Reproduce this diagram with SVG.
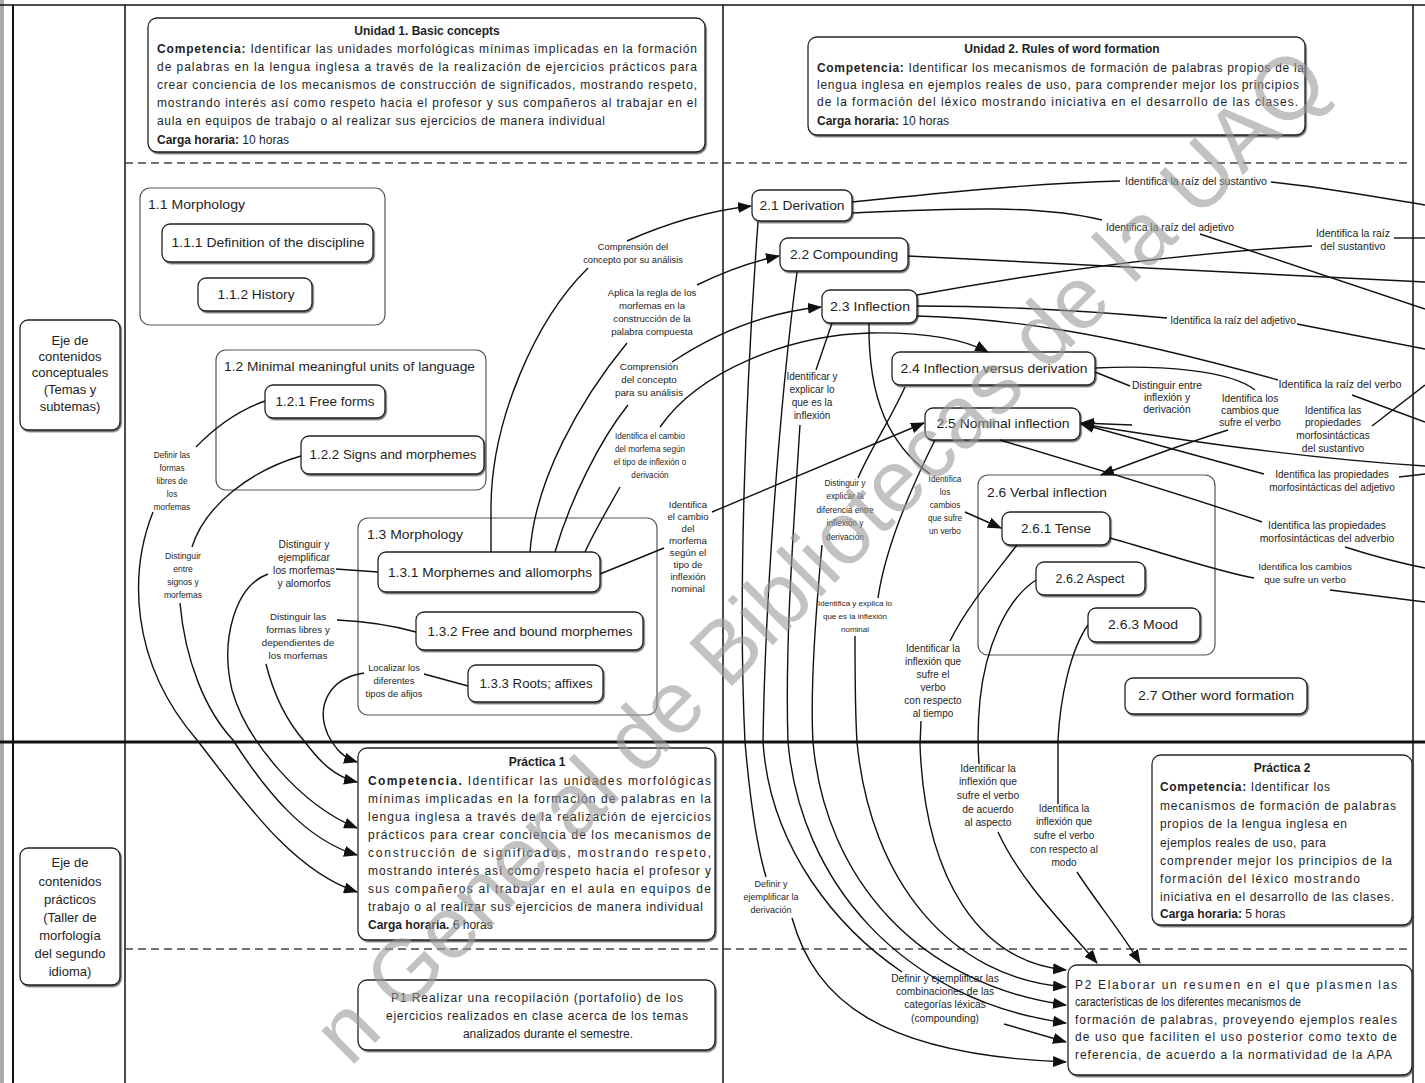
<svg xmlns="http://www.w3.org/2000/svg" width="1425" height="1083" viewBox="0 0 1425 1083">
<defs>
  <marker id="ah" viewBox="0 0 14 11" refX="13" refY="5.5" markerWidth="14" markerHeight="11" markerUnits="userSpaceOnUse" orient="auto">
    <path d="M0,0 L14,5.5 L0,11 z" fill="#111"/>
  </marker>
  <filter id="sh" x="-5%" y="-5%" width="110%" height="115%">
    <feDropShadow dx="1.2" dy="1.5" stdDeviation="0.7" flood-color="#444" flood-opacity="0.8"/>
  </filter>
</defs>
<style>
  .t{font-family:"Liberation Sans",Arial,sans-serif;fill:#1e1e1e}
  .n{font-size:13px;text-anchor:middle}
  .k{font-size:12px}
  .s text{text-anchor:middle}
  .e{font-size:13px;text-anchor:middle}
  .bd{font-weight:bold}
  .box{fill:#fff;stroke:#222;stroke-width:1.3;filter:url(#sh)}
  .cont{fill:none;stroke:#555;stroke-width:1.2}
  .frame{stroke:#111;fill:none}
  .dash{stroke:#444;stroke-width:1.3;stroke-dasharray:8 5;fill:none}
  .cn{fill:none;stroke:#111;stroke-width:1.4}
  .ar{marker-end:url(#ah)}
</style>
<rect width="1425" height="1083" fill="#fff"/>

<!-- table frame -->
<g id="frame">
  <rect x="0" y="0" width="4" height="1083" fill="#aaa"/>
  <line class="frame" x1="0" y1="5" x2="1425" y2="5" stroke-width="1.5"/>
  <line class="frame" x1="13" y1="5" x2="13" y2="1083" stroke-width="2"/>
  <line class="frame" x1="125" y1="5" x2="125" y2="1083" stroke-width="1.5"/>
  <line class="frame" x1="723" y1="5" x2="723" y2="1083" stroke-width="1.5"/>
  <line class="frame" x1="1413" y1="5" x2="1413" y2="1083" stroke-width="1.5"/>
  <line class="frame" x1="0" y1="742" x2="1425" y2="742" stroke-width="3"/>
  <line class="dash" x1="125" y1="163" x2="1413" y2="163"/>
  <line class="dash" x1="125" y1="949" x2="1413" y2="949"/>
</g>

<!-- row headers -->
<g id="eje-conceptual">
  <rect class="box" x="20" y="320" width="100" height="110" rx="8"/>
  <text class="t e" x="70" y="345">Eje de</text>
  <text class="t e" x="70" y="361">contenidos</text>
  <text class="t e" x="70" y="377">conceptuales</text>
  <text class="t e" x="70" y="394">(Temas y</text>
  <text class="t e" x="70" y="411">subtemas)</text>
</g>
<g id="eje-practico">
  <rect class="box" x="20" y="848" width="100" height="137" rx="8"/>
  <text class="t e" x="70" y="867">Eje de</text>
  <text class="t e" x="70" y="886">contenidos</text>
  <text class="t e" x="70" y="904">prácticos</text>
  <text class="t e" x="70" y="922">(Taller de</text>
  <text class="t e" x="70" y="940">morfología</text>
  <text class="t e" x="70" y="958">del segundo</text>
  <text class="t e" x="70" y="976">idioma)</text>
</g>

<!-- unit headers -->
<g id="unidad1">
  <rect class="box" x="148" y="18" width="557" height="134" rx="9"/>
  <text class="t k bd" x="427" y="35" text-anchor="middle">Unidad 1. Basic concepts</text>
  <text class="t k" x="157" y="53" textLength="540" lengthAdjust="spacing"><tspan class="bd">Competencia:</tspan> Identificar las unidades morfológicas mínimas implicadas en la formación</text>
  <text class="t k" x="157" y="71" textLength="540" lengthAdjust="spacing">de palabras en la lengua inglesa a través de la realización de ejercicios prácticos para</text>
  <text class="t k" x="157" y="89" textLength="540" lengthAdjust="spacing">crear conciencia de los mecanismos de construcción de significados, mostrando respeto,</text>
  <text class="t k" x="157" y="107" textLength="540" lengthAdjust="spacing">mostrando interés así como respeto hacia el profesor y sus compañeros al trabajar en el</text>
  <text class="t k" x="157" y="125" textLength="448" lengthAdjust="spacing">aula en equipos de trabajo o al realizar sus ejercicios de manera individual</text>
  <text class="t k" x="157" y="144"><tspan class="bd">Carga horaria:</tspan> 10 horas</text>
</g>
<g id="unidad2">
  <rect class="box" x="808" y="37" width="497" height="98" rx="9"/>
  <text class="t k bd" x="1062" y="53" text-anchor="middle">Unidad 2. Rules of word formation</text>
  <text class="t k" x="817" y="72" textLength="487" lengthAdjust="spacing"><tspan class="bd">Competencia:</tspan> Identificar los mecanismos de formación de palabras propios de la</text>
  <text class="t k" x="817" y="89" textLength="482" lengthAdjust="spacing">lengua inglesa en ejemplos reales de uso, para comprender mejor los principios</text>
  <text class="t k" x="817" y="106" textLength="481" lengthAdjust="spacing">de la formación del léxico mostrando iniciativa en el desarrollo de las clases.</text>
  <text class="t k" x="817" y="125"><tspan class="bd">Carga horaria:</tspan> 10 horas</text>
</g>

<!-- unit 1 topics -->
<g id="tema-1-1">
  <rect class="cont" x="140" y="188" width="245" height="137" rx="10"/>
  <text class="t k" x="148" y="209" textLength="97" lengthAdjust="spacingAndGlyphs">1.1 Morphology</text>
</g>
<g id="tema-1-1-1">
  <rect class="box" x="162" y="224" width="211" height="38" rx="8"/>
  <text class="t n" x="268" y="247" textLength="193" lengthAdjust="spacingAndGlyphs">1.1.1 Definition of the discipline</text>
</g>
<g id="tema-1-1-2">
  <rect class="box" x="198" y="278" width="114" height="33" rx="8"/>
  <text class="t n" x="256" y="299" textLength="77" lengthAdjust="spacingAndGlyphs">1.1.2 History</text>
</g>
<g id="tema-1-2">
  <rect class="cont" x="216" y="350" width="270" height="140" rx="10"/>
  <text class="t k" x="224" y="371" textLength="251" lengthAdjust="spacingAndGlyphs">1.2 Minimal meaningful units of language</text>
</g>
<g id="tema-1-2-1">
  <rect class="box" x="265" y="385" width="120" height="33" rx="8"/>
  <text class="t n" x="325" y="406" textLength="99" lengthAdjust="spacingAndGlyphs">1.2.1 Free forms</text>
</g>
<g id="tema-1-2-2">
  <rect class="box" x="301" y="436" width="183" height="38" rx="8"/>
  <text class="t n" x="393" y="459" textLength="167" lengthAdjust="spacingAndGlyphs">1.2.2 Signs and morphemes</text>
</g>
<g id="tema-1-3">
  <rect class="cont" x="358" y="518" width="299" height="197" rx="10"/>
  <text class="t k" x="367" y="539" textLength="96" lengthAdjust="spacingAndGlyphs">1.3 Morphology</text>
</g>
<g id="tema-1-3-1">
  <rect class="box" x="378" y="552" width="222" height="40" rx="8"/>
  <text class="t n" x="490" y="577" textLength="204" lengthAdjust="spacingAndGlyphs">1.3.1 Morphemes and allomorphs</text>
</g>
<g id="tema-1-3-2">
  <rect class="box" x="416" y="612" width="227" height="38" rx="8"/>
  <text class="t n" x="530" y="636" textLength="205" lengthAdjust="spacingAndGlyphs">1.3.2 Free and bound morphemes</text>
</g>
<g id="tema-1-3-3">
  <rect class="box" x="468" y="665" width="135" height="37" rx="8"/>
  <text class="t n" x="536" y="688" textLength="113" lengthAdjust="spacingAndGlyphs">1.3.3 Roots; affixes</text>
</g>

<!-- unit 2 topics -->
<g id="tema-2-1">
  <rect class="box" x="752" y="190" width="100" height="31" rx="8"/>
  <text class="t n" x="802" y="210" textLength="85" lengthAdjust="spacingAndGlyphs">2.1 Derivation</text>
</g>
<g id="tema-2-2">
  <rect class="box" x="780" y="238" width="128" height="33" rx="8"/>
  <text class="t n" x="844" y="259" textLength="108" lengthAdjust="spacingAndGlyphs">2.2 Compounding</text>
</g>
<g id="tema-2-3">
  <rect class="box" x="822" y="290" width="95" height="33" rx="8"/>
  <text class="t n" x="870" y="311" textLength="80" lengthAdjust="spacingAndGlyphs">2.3 Inflection</text>
</g>
<g id="tema-2-4">
  <rect class="box" x="892" y="352" width="203" height="33" rx="8"/>
  <text class="t n" x="994" y="373" textLength="187" lengthAdjust="spacingAndGlyphs">2.4 Inflection versus derivation</text>
</g>
<g id="tema-2-5">
  <rect class="box" x="925" y="408" width="155" height="32" rx="8"/>
  <text class="t n" x="1003" y="428" textLength="133" lengthAdjust="spacingAndGlyphs">2.5 Nominal inflection</text>
</g>
<g id="tema-2-6">
  <rect class="cont" x="978" y="475" width="237" height="180" rx="10"/>
  <text class="t k" x="987" y="497" textLength="120" lengthAdjust="spacingAndGlyphs">2.6 Verbal inflection</text>
</g>
<g id="tema-2-6-1">
  <rect class="box" x="1002" y="512" width="108" height="33" rx="8"/>
  <text class="t n" x="1056" y="533" textLength="70" lengthAdjust="spacingAndGlyphs">2.6.1 Tense</text>
</g>
<g id="tema-2-6-2">
  <rect class="box" x="1036" y="562" width="109" height="33" rx="8"/>
  <text class="t n" x="1090" y="583" textLength="69" lengthAdjust="spacingAndGlyphs">2.6.2 Aspect</text>
</g>
<g id="tema-2-6-3">
  <rect class="box" x="1088" y="608" width="112" height="34" rx="8"/>
  <text class="t n" x="1143" y="629" textLength="70" lengthAdjust="spacingAndGlyphs">2.6.3 Mood</text>
</g>
<g id="tema-2-7">
  <rect class="box" x="1125" y="678" width="182" height="36" rx="8"/>
  <text class="t n" x="1216" y="700" textLength="156" lengthAdjust="spacingAndGlyphs">2.7 Other word formation</text>
</g>

<!-- practice row -->
<g id="practica1">
  <rect class="box" x="358" y="748" width="357" height="192" rx="9"/>
  <text class="t k bd" x="537" y="766" text-anchor="middle">Práctica 1</text>
  <text class="t k" x="368" y="785" textLength="343" lengthAdjust="spacing"><tspan class="bd">Competencia.</tspan> Identificar las unidades morfológicas</text>
  <text class="t k" x="368" y="803" textLength="343" lengthAdjust="spacing">mínimas implicadas en la formación de palabras en la</text>
  <text class="t k" x="368" y="821" textLength="343" lengthAdjust="spacing">lengua inglesa a través de la realización de ejercicios</text>
  <text class="t k" x="368" y="839" textLength="343" lengthAdjust="spacing">prácticos para crear conciencia de los mecanismos de</text>
  <text class="t k" x="368" y="857" textLength="343" lengthAdjust="spacing">construcción de significados, mostrando respeto,</text>
  <text class="t k" x="368" y="875" textLength="343" lengthAdjust="spacing">mostrando interés así como respeto hacia el profesor y</text>
  <text class="t k" x="368" y="893" textLength="343" lengthAdjust="spacing">sus compañeros al trabajar en el aula en equipos de</text>
  <text class="t k" x="368" y="911" textLength="335" lengthAdjust="spacing">trabajo o al realizar sus ejercicios de manera individual</text>
  <text class="t k" x="368" y="929"><tspan class="bd">Carga horaria.</tspan> 6 horas</text>
</g>
<g id="producto1">
  <rect class="box" x="358" y="980" width="357" height="70" rx="9"/>
  <text class="t k" x="537" y="1002" text-anchor="middle" textLength="292" lengthAdjust="spacing">P1 Realizar una recopilación (portafolio) de los</text>
  <text class="t k" x="537" y="1020" text-anchor="middle" textLength="302" lengthAdjust="spacing">ejercicios realizados en clase acerca de los temas</text>
  <text class="t k" x="548" y="1038" text-anchor="middle">analizados durante el semestre.</text>
</g>
<g id="practica2">
  <rect class="box" x="1152" y="755" width="260" height="170" rx="9"/>
  <text class="t k bd" x="1282" y="772" text-anchor="middle">Práctica 2</text>
  <text class="t k" x="1160" y="791" textLength="170" lengthAdjust="spacing"><tspan class="bd">Competencia:</tspan> Identificar los</text>
  <text class="t k" x="1160" y="810" textLength="236" lengthAdjust="spacing">mecanismos de formación de palabras</text>
  <text class="t k" x="1160" y="828" textLength="187" lengthAdjust="spacing">propios de la lengua inglesa en</text>
  <text class="t k" x="1160" y="847" textLength="166" lengthAdjust="spacing">ejemplos reales de uso, para</text>
  <text class="t k" x="1160" y="865" textLength="232" lengthAdjust="spacing">comprender mejor los principios de la</text>
  <text class="t k" x="1160" y="883" textLength="200" lengthAdjust="spacing">formación del léxico mostrando</text>
  <text class="t k" x="1160" y="901" textLength="234" lengthAdjust="spacing">iniciativa en el desarrollo de las clases.</text>
  <text class="t k" x="1160" y="918"><tspan class="bd">Carga horaria:</tspan> 5 horas</text>
</g>
<g id="producto2">
  <rect class="box" x="1068" y="965" width="344" height="110" rx="9"/>
  <text class="t k" x="1075" y="989" textLength="322" lengthAdjust="spacing">P2 Elaborar un resumen en el que plasmen las</text>
  <text class="t k" x="1075" y="1006" textLength="226" lengthAdjust="spacingAndGlyphs">características de los diferentes mecanismos de</text>
  <text class="t k" x="1075" y="1024" textLength="322" lengthAdjust="spacing">formación de palabras, proveyendo ejemplos reales</text>
  <text class="t k" x="1075" y="1041" textLength="322" lengthAdjust="spacing">de uso que faciliten el uso posterior como texto de</text>
  <text class="t k" x="1075" y="1059" textLength="317" lengthAdjust="spacing">referencia, de acuerdo a la normatividad de la APA</text>
</g>

<!-- connectors -->
<g id="connectors">
  <!-- unit 1, topics to labels -->
  <path class="cn" d="M196,447 Q228,414 265,401"/>
  <path class="cn" d="M301,456 C252,470 205,505 192,547"/>
  <path class="cn" d="M336,569 L378,572"/>
  <path class="cn" d="M337,620 Q380,622 416,632"/>
  <path class="cn" d="M424,674 L468,686"/>
  <!-- unit 1, labels to Práctica 1 -->
  <path class="cn ar" d="M153,512 C130,570 128,660 197,740 C240,795 290,870 357,892"/>
  <path class="cn ar" d="M180,603 C185,660 205,710 233,740 C265,790 305,840 357,855"/>
  <path class="cn ar" d="M268,574 C235,586 220,640 232,690 C246,740 300,805 357,828"/>
  <path class="cn ar" d="M266,664 C275,700 290,725 305,742 C320,762 335,777 357,782"/>
  <path class="cn ar" d="M364,673 C330,678 315,705 328,735 C336,750 344,758 357,762"/>
  <!-- unit 1 to unit 2 -->
  <path class="cn" d="M491,552 L491,505 C492,420 535,320 588,268"/>
  <path class="cn ar" d="M627,241 Q690,213 751,206"/>
  <path class="cn" d="M530,552 C535,480 580,400 627,343"/>
  <path class="cn ar" d="M697,285 Q740,264 779,256"/>
  <path class="cn" d="M555,552 C570,500 600,440 628,405"/>
  <path class="cn ar" d="M672,362 C720,330 770,312 821,307"/>
  <path class="cn" d="M585,552 C595,530 610,505 620,487"/>
  <path class="cn ar" d="M660,427 C700,370 790,335 870,333 C930,332 965,340 988,352"/>
  <path class="cn" d="M600,574 L664,548"/>
  <path class="cn ar" d="M712,512 L924,423"/>
  <!-- unit 2, topics down to Práctica 2 product -->
  <path class="cn" d="M758,222 C745,400 738,600 745,742 C750,800 758,850 766,877"/>
  <path class="cn ar" d="M792,918 C815,1000 880,1055 1066,1062"/>
  <path class="cn" d="M797,272 C780,400 765,600 763,742 C770,850 840,930 902,972"/>
  <path class="cn ar" d="M1004,1024 L1066,1042"/>
  <path class="cn" d="M832,323 L816,370"/>
  <path class="cn ar" d="M800,425 C792,550 785,650 788,742 C800,880 900,1000 1066,1023"/>
  <path class="cn" d="M905,387 C890,420 870,450 858,478"/>
  <path class="cn ar" d="M822,545 C815,620 810,690 813,742 C825,880 920,985 1066,1005"/>
  <path class="cn" d="M935,440 C910,490 885,550 878,598"/>
  <path class="cn ar" d="M855,636 C855,680 855,710 857,742 C870,880 950,978 1066,987"/>
  <path class="cn" d="M869,323 C868,400 890,445 930,474"/>
  <path class="cn ar" d="M965,512 L1001,528"/>
  <path class="cn" d="M1017,545 C990,580 965,610 950,641"/>
  <path class="cn ar" d="M921,721 L920,745 C925,880 980,962 1066,970"/>
  <path class="cn" d="M1036,580 C1005,600 985,650 980,700 C977,730 978,750 979,764"/>
  <path class="cn ar" d="M998,832 C1020,880 1060,920 1097,963"/>
  <path class="cn" d="M1088,625 C1070,650 1060,700 1058,740 L1058,804"/>
  <path class="cn ar" d="M1077,872 C1095,900 1120,930 1140,963"/>
  <!-- unit 2, links toward the next column -->
  <path class="cn" d="M852,202 C950,192 1040,183 1120,181"/>
  <path class="cn" d="M1271,182 C1330,188 1380,198 1425,205"/>
  <path class="cn" d="M852,213 C960,208 1040,205 1102,220"/>
  <path class="cn" d="M1200,234 L1425,309"/>
  <path class="cn" d="M908,256 C1050,262 1200,272 1425,282"/>
  <path class="cn" d="M917,295 C1000,280 1150,255 1312,246"/>
  <path class="cn" d="M1394,238 L1425,238"/>
  <path class="cn" d="M917,306 C1000,306 1100,312 1167,318"/>
  <path class="cn" d="M1297,324 L1425,349"/>
  <path class="cn" d="M917,316 C1000,318 1100,330 1278,380"/>
  <path class="cn" d="M1352,395 L1425,422"/>
  <path class="cn" d="M1095,368 C1160,365 1230,370 1255,390"/>
  <path class="cn" d="M1095,372 L1130,386"/>
  <path class="cn ar" d="M1228,430 C1180,445 1140,460 1101,475"/>
  <path class="cn" d="M1425,385 L1372,426"/>
  <path class="cn ar" d="M1132,425 L1081,423"/>
  <path class="cn ar" d="M1425,466 C1300,458 1180,440 1081,424"/>
  <path class="cn ar" d="M1264,474 L1081,424"/>
  <path class="cn" d="M1000,440 C1100,470 1200,500 1262,522"/>
  <path class="cn" d="M1399,477 L1425,474"/>
  <path class="cn" d="M1345,547 C1370,555 1400,563 1425,568"/>
  <path class="cn" d="M1110,538 C1170,555 1220,572 1254,578"/>
  <path class="cn" d="M1330,590 L1425,602"/>
</g>

<!-- connector labels -->
<g id="labels" class="t s">
  <g font-size="8.2"><text x="172" y="458">Definir las</text><text x="172" y="471">formas</text><text x="172" y="484">libres de</text><text x="172" y="497">los</text><text x="172" y="510">morfemas</text></g>
  <g font-size="8.6"><text x="183" y="559">Distinguir</text><text x="183" y="572">entre</text><text x="183" y="585">signos y</text><text x="183" y="598">morfemas</text></g>
  <g font-size="10.3"><text x="304" y="548">Distinguir y</text><text x="304" y="561">ejemplificar</text><text x="304" y="574">los morfemas</text><text x="304" y="587">y alomorfos</text></g>
  <g font-size="9.8"><text x="298" y="620">Distinguir las</text><text x="298" y="633">formas libres y</text><text x="298" y="646">dependientes de</text><text x="298" y="659">los morfemas</text></g>
  <g font-size="9.3"><text x="394" y="671">Localizar los</text><text x="394" y="684">diferentes</text><text x="394" y="697">tipos de afijos</text></g>

  <g font-size="9.3"><text x="633" y="250">Comprensión del</text><text x="633" y="263">concepto por su análisis</text></g>
  <g font-size="9.6"><text x="652" y="296">Aplica la regla de los</text><text x="652" y="309">morfemas en la</text><text x="652" y="322">construcción de la</text><text x="652" y="335">palabra compuesta</text></g>
  <g font-size="9.8"><text x="649" y="370">Comprensión</text><text x="649" y="383">del concepto</text><text x="649" y="396">para su análisis</text></g>
  <g font-size="8.2"><text x="650" y="439">Identifica el cambio</text><text x="650" y="452">del morfema según</text><text x="650" y="465">el tipo de inflexión o</text><text x="650" y="478">derivación</text></g>
  <g font-size="9.6"><text x="688" y="508">Identifica</text><text x="688" y="520">el cambio</text><text x="688" y="532">del</text><text x="688" y="544">morfema</text><text x="688" y="556">según el</text><text x="688" y="568">tipo de</text><text x="688" y="580">inflexión</text><text x="688" y="592">nominal</text></g>

  <g font-size="10"><text x="812" y="380">Identificar y</text><text x="812" y="393">explicar lo</text><text x="812" y="406">que es la</text><text x="812" y="419">inflexión</text></g>
  <g font-size="8.3"><text x="845" y="486">Distinguir y</text><text x="845" y="499">explicar la</text><text x="845" y="513">diferencia entre</text><text x="845" y="526">inflexión y</text><text x="845" y="540">derivación</text></g>
  <g font-size="8.2"><text x="945" y="482">Identifica</text><text x="945" y="495">los</text><text x="945" y="508">cambios</text><text x="945" y="521">que sufre</text><text x="945" y="534">un verbo</text></g>
  <g font-size="8"><text x="855" y="606">Identifica y explica lo</text><text x="855" y="619">que es la inflexión</text><text x="855" y="632">nominal</text></g>
  <g font-size="10"><text x="933" y="652">Identificar la</text><text x="933" y="665">inflexión que</text><text x="933" y="678">sufre el</text><text x="933" y="691">verbo</text><text x="933" y="704">con respecto</text><text x="933" y="717">al tiempo</text></g>
  <g font-size="10.3"><text x="988" y="772">Identificar la</text><text x="988" y="785">inflexión que</text><text x="988" y="799">sufre el verbo</text><text x="988" y="813">de acuerdo</text><text x="988" y="826">al aspecto</text></g>
  <g font-size="10"><text x="1064" y="812">Identifica la</text><text x="1064" y="825">inflexión que</text><text x="1064" y="839">sufre el verbo</text><text x="1064" y="853">con respecto al</text><text x="1064" y="866">modo</text></g>
  <g font-size="9"><text x="771" y="887">Definir y</text><text x="771" y="900">ejemplificar la</text><text x="771" y="913">derivación</text></g>
  <g font-size="10.2"><text x="945" y="982">Definir y ejemplificar las</text><text x="945" y="995">combinaciones de las</text><text x="945" y="1008">categorías léxicas</text><text x="945" y="1022">(compounding)</text></g>

  <g font-size="10.6"><text x="1196" y="185">Identifica la raíz del sustantivo</text></g>
  <g font-size="10.4"><text x="1170" y="231">Identifica la raíz del adjetivo</text></g>
  <g font-size="10.6"><text x="1353" y="237">Identifica la raíz</text><text x="1353" y="250">del sustantivo</text></g>
  <g font-size="10.2"><text x="1233" y="324">Identifica la raíz del adjetivo</text></g>
  <g font-size="10.8"><text x="1340" y="388">Identifica la raíz del verbo</text></g>
  <g font-size="10.4"><text x="1167" y="389">Distinguir entre</text><text x="1167" y="401">inflexión y</text><text x="1167" y="413">derivación</text></g>
  <g font-size="10.2"><text x="1250" y="402">Identifica los</text><text x="1250" y="414">cambios que</text><text x="1250" y="426">sufre el verbo</text></g>
  <g font-size="10.2"><text x="1333" y="414">Identifica las</text><text x="1333" y="426">propiedades</text><text x="1333" y="439">morfosintácticas</text><text x="1333" y="452">del sustantivo</text></g>
  <g font-size="10"><text x="1332" y="478">Identifica las propiedades</text><text x="1332" y="491">morfosintácticas del adjetivo</text></g>
  <g font-size="10.4"><text x="1327" y="529">Identifica las propiedades</text><text x="1327" y="542">morfosintácticas del adverbio</text></g>
  <g font-size="9.8"><text x="1305" y="570">Identifica los cambios</text><text x="1305" y="583">que sufre un verbo</text></g>
</g>

<!-- library watermark -->
<text x="350" y="1068" transform="rotate(-45 350 1068)" font-family="'Liberation Sans',Arial,sans-serif" font-size="88" fill="#9a9a9a" fill-opacity="0.6">n General de Bibliotecas de la UAQ</text>
</svg>
